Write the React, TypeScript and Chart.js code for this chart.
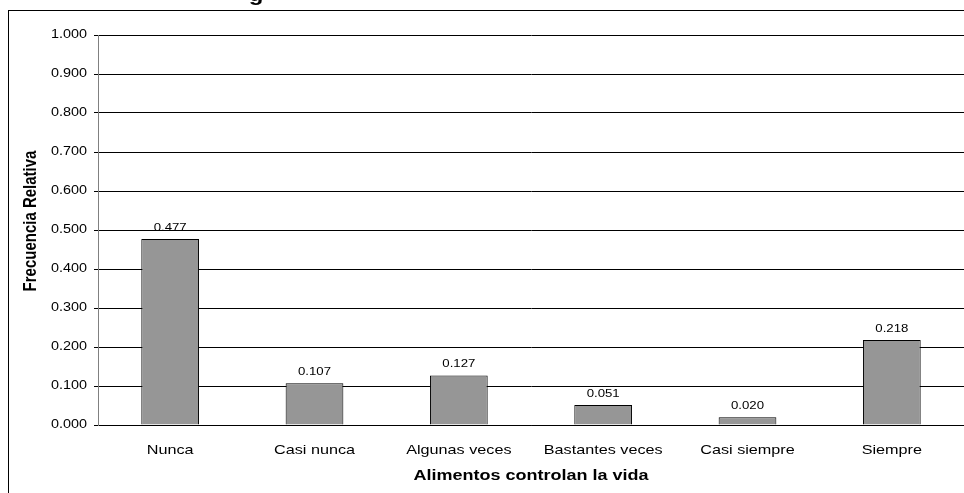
import React, { useEffect, useRef } from "react";
import { Chart, registerables } from "chart.js";

Chart.register(...registerables);

const categories = ["Nunca", "Casi nunca", "Algunas veces", "Bastantes veces", "Casi siempre", "Siempre"];
const values = [0.477, 0.107, 0.127, 0.051, 0.02, 0.218];
const yTicks = [0, 0.1, 0.2, 0.3, 0.4, 0.5, 0.6, 0.7, 0.8, 0.9, 1.0];
const titleFragment = "g";
const xTitle = "Alimentos controlan la vida";
const yTitle = "Frecuencia Relativa";

const FONT = "'Liberation Sans', Arial, sans-serif";
const TEXT_STRETCH = 1.2;

export default function App() {
  const ref = useRef<HTMLCanvasElement | null>(null);

  useEffect(() => {
    const canvas = ref.current;
    if (!canvas) return;
    const ctx2d = canvas.getContext("2d") as any;
    if (ctx2d && !ctx2d.__stretched) {
      const orig = ctx2d.fillText.bind(ctx2d);
      ctx2d.fillText = function (text: string, x: number, y: number, maxWidth?: number) {
        const m = ctx2d.getTransform();
        ctx2d.save();
        ctx2d.translate(x, y);
        if (Math.abs(m.b) > 1e-6) ctx2d.scale(1, TEXT_STRETCH);
        else ctx2d.scale(TEXT_STRETCH, 1);
        if (maxWidth !== undefined) orig(text, 0, 0, maxWidth);
        else orig(text, 0, 0);
        ctx2d.restore();
      };
      ctx2d.__stretched = true;
    }

    const framePlugin = {
      id: "frame",
      beforeDraw(chart: any) {
        const ctx = chart.ctx;
        ctx.save();
        ctx.fillStyle = "#fff";
        ctx.fillRect(0, 0, chart.width, chart.height);
        ctx.strokeStyle = "#000";
        ctx.lineWidth = 1;
        ctx.strokeRect(8.5, 10.5, 2000, 2000);
        ctx.fillStyle = "#000";
        ctx.font = `bold 20px ${FONT}`;
        ctx.textAlign = "center";
        ctx.textBaseline = "alphabetic";
        ctx.fillText(titleFragment, 256, 0.5);
        ctx.restore();
      },
    };
    const labelPlugin = {
      id: "valueLabels",
      afterDatasetsDraw(chart: any) {
        const ctx = chart.ctx;
        const meta = chart.getDatasetMeta(0);
        ctx.save();
        ctx.fillStyle = "#000";
        ctx.font = `11px ${FONT}`;
        ctx.textAlign = "center";
        ctx.textBaseline = "alphabetic";
        meta.data.forEach((el: any, i: number) => {
          ctx.fillText(values[i].toFixed(3), el.x, el.y - 8);
        });
        // y axis title
        ctx.save();
        ctx.translate(31, 221);
        ctx.rotate(-Math.PI / 2);
        ctx.font = `bold 15px ${FONT}`;
        ctx.textAlign = "center";
        ctx.textBaseline = "middle";
        ctx.fillText(yTitle, 0, 0);
        ctx.restore();
        ctx.restore();
      },
    };
    const chart = new Chart(canvas, {
      type: "bar",
      data: {
        labels: categories,
        datasets: [
          {
            data: values,
            backgroundColor: "#969696",
            borderColor: "#000",
            borderWidth: 1,
            barPercentage: 0.4,
            categoryPercentage: 1,
          },
        ],
      },
      options: {
        responsive: false,
        animation: false,
        layout: { padding: { top: 35, left: 0, right: -2, bottom: 0 } },
        plugins: {
          legend: { display: false },
          tooltip: { enabled: false },
        },
        scales: {
          x: {
            afterFit(scale: any) {
              scale.height = 68;
            },
            grid: { display: false, drawTicks: false },
            border: { display: true, color: "#000", width: 1 },
            ticks: {
              color: "#000",
              font: { family: FONT, size: 13.5 },
              padding: 17,
              maxRotation: 0,
              autoSkip: false,
            },
            title: {
              display: true,
              text: xTitle,
              color: "#000",
              font: { family: FONT, size: 15, weight: "bold" },
              padding: { top: 0, bottom: 8 },
            },
          },
          y: {
            min: 0,
            max: 1,
            afterFit(scale: any) {
              scale.width = 98;
            },
            afterBuildTicks(scale: any) {
              scale.ticks = yTicks.map((v) => ({ value: v }));
            },
            grid: { color: "#000", lineWidth: 1, tickLength: 4, drawTicks: true },
            border: { display: true, color: "#808080", width: 1 },
            ticks: {
              color: "#000",
              font: { family: FONT, size: 12 },
              padding: 7,
              callback: (v: any) => Number(v).toFixed(3),
            },
            title: { display: false },
          },
        },
      },
      plugins: [framePlugin, labelPlugin],
    });
    return () => chart.destroy();
  }, []);

  return (
    <div style={{ position: "absolute", left: 0, top: 0, width: 964, height: 493 }}>
      <canvas ref={ref} width={964} height={493} style={{ display: "block" }} />
    </div>
  );
}
